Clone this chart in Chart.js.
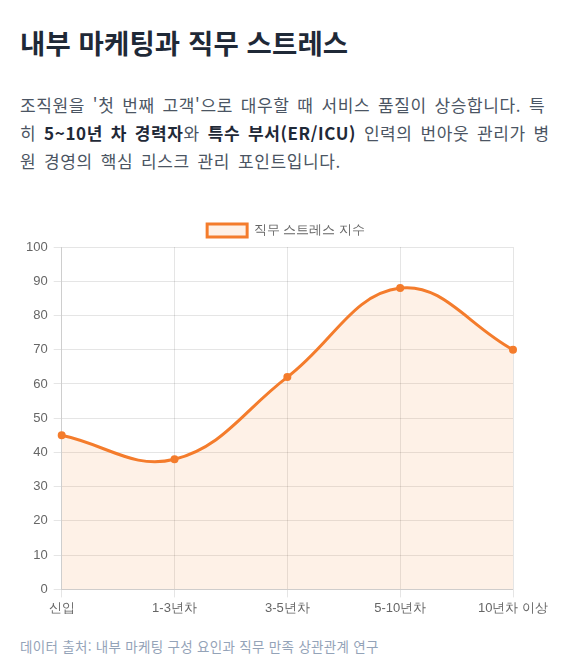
<!DOCTYPE html>
<html lang="ko">
<head>
<meta charset="utf-8">
<title>내부 마케팅과 직무 스트레스</title>
<script src="https://cdn.jsdelivr.net/npm/chart.js@4.4.1/dist/chart.umd.min.js"></script>
<style>
  body { margin: 0; background: #fff; font-family: "Noto Sans CJK KR", "Noto Sans", sans-serif; }
  .card { width: 538px; padding: 20px 20px 0 20px; }
  h2 { margin: 6px 0 0 0; font-size: 27.5px; line-height: 32px; font-weight: 700; color: #1f2937; letter-spacing: 0.1px; }
  p.desc { margin: 33px 0 0 0; font-size: 17px; line-height: 28px; color: #4b5563; word-break: break-all; letter-spacing: 0.6px; word-spacing: 2.5px; }
  p.desc b { color: #1f2937; }
  .chart-box { position: relative; width: 532px; height: 405px; margin-top: 39px; }
  .source { margin: 18px 0 0 0; font-size: 13.5px; line-height: 18px; color: #94a3b8; letter-spacing: 0.3px; }
</style>
</head>
<body>
<div class="card">
  <h2>내부 마케팅과 직무 스트레스</h2>
  <p class="desc">조직원을 '첫 번째 고객'으로 대우할 때 서비스 품질이 상승합니다. 특히 <b>5~10년 차 경력자</b>와 <b>특수 부서(ER/ICU)</b> 인력의 번아웃 관리가 병원 경영의 핵심 리스크 관리 포인트입니다.</p>
  <div class="chart-box"><canvas id="stressChart"></canvas></div>
  <p class="source">데이터 출처: 내부 마케팅 구성 요인과 직무 만족 상관관계 연구</p>
</div>
<script>
// 경력 구간 (x축)
const careerLabels = ['신입', '1-3년차', '3-5년차', '5-10년차', '10년차 이상'];
// 직무 스트레스 지수
const stressValues = [45, 38, 62, 88, 70];

function drawChart() {
    const ctx = document.getElementById('stressChart');
    new Chart(ctx, {
        type: 'line',
        data: {
            labels: careerLabels,
            datasets: [{
                label: '직무 스트레스 지수',
                data: stressValues,
                borderColor: '#f47c2c',
                backgroundColor: 'rgba(249, 115, 22, 0.1)',
                borderWidth: 3,
                fill: true,
                tension: 0.4,
                pointRadius: 3,
                pointBorderWidth: 2,
                pointBackgroundColor: '#f47c2c'
            }]
        },
        options: {
            responsive: true,
            maintainAspectRatio: false,
            animation: false,
            plugins: {
                legend: { labels: { color: '#666', font: { size: 13 } } }
            },
            scales: {
                x: {
                    ticks: { color: '#666', font: { size: 13 } },
                    // leave a bit more room on the right than the last label needs
                    afterFit: (scale) => { scale.paddingRight = Math.max(scale.paddingRight, 39); }
                },
                y: { min: 0, max: 100, ticks: { stepSize: 10, padding: 6, color: '#666', font: { size: 13 } } }
            }
        }
    });
}

document.addEventListener("DOMContentLoaded", drawChart);
</script>
</body>
</html>
